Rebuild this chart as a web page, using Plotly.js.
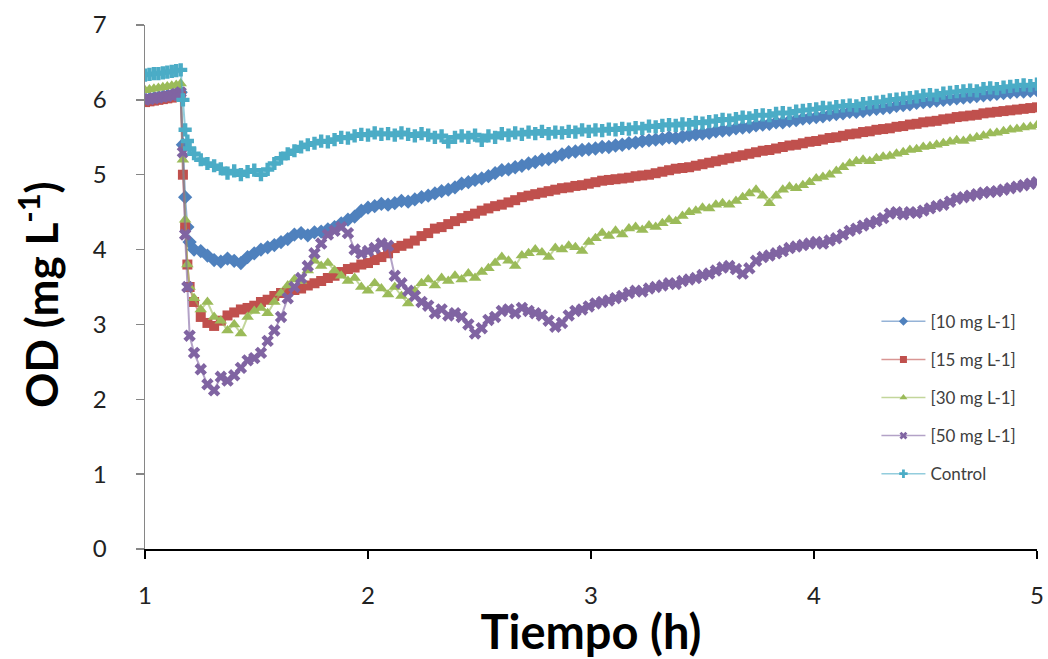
<!DOCTYPE html>
<html>
<head>
<meta charset="utf-8">
<script src="https://cdn.plot.ly/plotly-3.0.1.min.js"></script>
<style>html,body{margin:0;padding:0;background:#fff}#chart{width:1048px;height:659px}</style>
</head>
<body>
<div id="chart"></div>
<script>
// Time (h)
const time = [
1.00,1.02,1.04,1.06,1.08,1.10,1.12,1.14,1.16,
1.17,1.18,1.19,1.20,
1.22,1.25,1.28,1.31,1.34,1.37,1.40,1.43,1.46,1.49,
1.52,1.55,1.58,1.61,1.64,1.67,1.70,1.73,1.76,1.79,
1.82,1.85,1.88,1.91,1.94,1.97,2.00,2.03,2.06,2.09,
2.12,2.15,2.18,2.21,2.24,2.27,2.30,2.33,2.36,2.39,
2.42,2.45,2.48,2.51,2.54,2.57,2.60,2.63,2.66,2.69,
2.72,2.75,2.78,2.81,2.84,2.87,2.90,2.93,2.96,2.99,
3.02,3.05,3.08,3.11,3.14,3.17,3.20,3.23,3.26,3.29,
3.32,3.35,3.38,3.41,3.44,3.47,3.50,3.53,3.56,3.59,
3.62,3.65,3.68,3.71,3.74,3.77,3.80,3.83,3.86,3.89,
3.92,3.95,3.98,4.01,4.04,4.07,4.10,4.13,4.16,4.19,
4.22,4.25,4.28,4.31,4.34,4.37,4.40,4.43,4.46,4.49,
4.52,4.55,4.58,4.61,4.64,4.67,4.70,4.73,4.76,4.79,
4.82,4.85,4.88,4.91,4.94,4.97,5.00];

// OD series (mg L-1)
const od10 = [
6.00,6.01,6.02,6.03,6.04,6.05,6.06,6.08,6.10,
5.40,4.70,4.30,4.10,
4.00,3.98,3.92,3.86,3.84,3.88,3.85,3.82,3.90,3.95,
4.00,4.03,4.06,4.10,4.14,4.20,4.22,4.19,4.23,4.24,
4.27,4.30,4.35,4.40,4.44,4.52,4.56,4.58,4.61,4.60,
4.62,4.65,4.64,4.67,4.70,4.72,4.75,4.78,4.80,4.83,
4.88,4.90,4.93,4.95,4.98,5.02,5.06,5.07,5.10,5.12,
5.15,5.17,5.20,5.21,5.24,5.27,5.30,5.31,5.33,5.34,
5.35,5.37,5.37,5.39,5.40,5.42,5.43,5.45,5.46,5.47,
5.48,5.50,5.49,5.51,5.53,5.54,5.55,5.56,5.58,5.59,
5.60,5.62,5.63,5.64,5.66,5.67,5.68,5.70,5.70,5.72,
5.73,5.75,5.76,5.77,5.78,5.80,5.81,5.82,5.84,5.84,
5.85,5.87,5.88,5.89,5.90,5.92,5.93,5.94,5.96,5.97,
5.98,5.99,6.00,6.01,6.02,6.03,6.04,6.05,6.06,6.07,
6.08,6.09,6.10,6.11,6.11,6.12,6.13];

const od15 = [
5.97,5.98,5.99,6.00,6.01,6.02,6.03,6.04,6.05,
5.00,4.30,3.80,3.50,
3.30,3.10,3.02,2.98,3.05,3.12,3.16,3.20,3.22,3.25,
3.30,3.33,3.38,3.42,3.44,3.46,3.48,3.52,3.55,3.58,
3.62,3.65,3.70,3.74,3.76,3.80,3.82,3.86,3.90,3.95,
4.02,4.05,4.08,4.12,4.18,4.22,4.28,4.30,4.34,4.38,
4.42,4.45,4.48,4.52,4.55,4.58,4.60,4.63,4.66,4.70,
4.72,4.74,4.76,4.78,4.80,4.82,4.83,4.85,4.86,4.88,
4.90,4.92,4.93,4.94,4.95,4.96,4.98,4.99,5.00,5.02,
5.04,5.06,5.08,5.09,5.10,5.12,5.14,5.16,5.18,5.20,
5.22,5.24,5.26,5.28,5.30,5.32,5.33,5.35,5.37,5.39,
5.40,5.42,5.44,5.45,5.47,5.49,5.50,5.52,5.54,5.55,
5.57,5.58,5.60,5.61,5.62,5.64,5.65,5.67,5.68,5.70,
5.71,5.72,5.74,5.75,5.77,5.78,5.79,5.80,5.82,5.83,
5.84,5.85,5.86,5.87,5.88,5.89,5.90];

const od30 = [
6.13,6.14,6.15,6.16,6.17,6.18,6.19,6.20,6.22,
5.20,4.40,3.80,3.50,
3.35,3.20,3.30,3.10,3.05,2.92,3.00,2.88,3.10,3.18,
3.22,3.15,3.30,3.42,3.52,3.60,3.58,3.72,3.85,3.78,
3.82,3.72,3.65,3.58,3.62,3.50,3.45,3.55,3.48,3.40,
3.50,3.38,3.28,3.45,3.55,3.60,3.52,3.62,3.58,3.65,
3.60,3.68,3.62,3.70,3.75,3.82,3.90,3.85,3.78,3.92,
3.95,4.00,3.96,3.90,4.02,4.00,4.05,4.03,3.98,4.10,
4.15,4.22,4.18,4.25,4.20,4.28,4.30,4.26,4.32,4.30,
4.35,4.40,4.38,4.45,4.50,4.52,4.56,4.55,4.60,4.62,
4.60,4.65,4.70,4.75,4.80,4.72,4.62,4.72,4.80,4.84,
4.82,4.86,4.90,4.95,4.97,5.00,5.05,5.10,5.15,5.18,
5.20,5.18,5.22,5.24,5.25,5.28,5.30,5.33,5.34,5.37,
5.38,5.40,5.42,5.44,5.46,5.45,5.48,5.50,5.52,5.55,
5.56,5.58,5.60,5.61,5.63,5.64,5.66];

const od50 = [
6.00,6.01,6.02,6.03,6.04,6.05,6.06,6.08,6.10,
5.30,4.20,3.50,2.85,
2.62,2.40,2.20,2.12,2.30,2.25,2.32,2.42,2.52,2.55,
2.62,2.78,2.92,3.10,3.35,3.50,3.62,3.78,3.95,4.08,
4.20,4.25,4.30,4.22,4.00,3.95,3.98,4.02,4.08,4.05,
3.65,3.55,3.45,3.38,3.30,3.25,3.15,3.20,3.12,3.15,
3.10,3.00,2.88,2.95,3.06,3.10,3.18,3.20,3.15,3.22,
3.18,3.15,3.12,3.05,2.97,3.02,3.12,3.18,3.20,3.24,
3.28,3.30,3.32,3.35,3.38,3.42,3.45,3.44,3.48,3.50,
3.52,3.55,3.54,3.58,3.60,3.62,3.66,3.68,3.72,3.76,
3.78,3.74,3.68,3.75,3.85,3.90,3.92,3.95,3.98,4.02,
4.04,4.06,4.08,4.10,4.08,4.12,4.15,4.20,4.25,4.28,
4.32,4.35,4.38,4.42,4.48,4.50,4.47,4.50,4.49,4.52,
4.55,4.58,4.60,4.64,4.68,4.70,4.72,4.74,4.76,4.77,
4.78,4.80,4.82,4.84,4.86,4.88,4.90];

const control = [
6.33,6.34,6.35,6.35,6.36,6.37,6.38,6.39,6.40,
6.00,5.60,5.45,5.35,
5.28,5.20,5.15,5.12,5.08,5.02,5.05,5.00,5.04,5.06,
5.00,5.07,5.15,5.22,5.28,5.32,5.37,5.40,5.42,5.45,
5.44,5.47,5.50,5.49,5.52,5.54,5.53,5.56,5.54,5.55,
5.53,5.56,5.54,5.52,5.55,5.53,5.50,5.52,5.44,5.50,
5.52,5.50,5.53,5.46,5.52,5.50,5.55,5.53,5.56,5.54,
5.57,5.55,5.58,5.55,5.57,5.56,5.58,5.57,5.60,5.58,
5.60,5.59,5.61,5.60,5.62,5.61,5.63,5.62,5.65,5.64,
5.66,5.67,5.66,5.68,5.67,5.70,5.69,5.71,5.72,5.74,
5.73,5.75,5.77,5.76,5.79,5.80,5.79,5.82,5.83,5.82,
5.85,5.86,5.87,5.88,5.90,5.89,5.91,5.92,5.93,5.92,
5.95,5.96,5.97,5.98,6.00,6.01,6.02,6.03,6.04,6.06,
6.07,6.06,6.09,6.10,6.11,6.12,6.13,6.12,6.15,6.16,
6.15,6.17,6.18,6.19,6.20,6.19,6.21];

const seriesNames = ['[10 mg L-1]', '[15 mg L-1]', '[30 mg L-1]', '[50 mg L-1]', 'Control'];
const seriesData = [od10, od15, od30, od50, control];
const colors = ['#4F81BD', '#C0504D', '#9BBB59', '#8064A2', '#4BACC6'];
const lineColors = ['rgba(79,129,189,0.6)', 'rgba(192,80,77,0.6)', 'rgba(155,187,89,0.6)', 'rgba(128,100,162,0.6)', 'rgba(75,172,198,0.6)'];
const symbols = ['diamond', 'square', 'triangle-up', 'x', 'cross'];
const sizes = [11, 10, 11, 11, 11];

const traces = [];
seriesData.forEach((ys, i) => {
  traces.push({
    x: time, y: ys, name: seriesNames[i], type: 'scatter', mode: 'lines+markers',
    showlegend: false, legendgroup: 'g' + i,
    line: {color: lineColors[i], width: 2},
    marker: {color: colors[i], symbol: symbols[i], size: sizes[i], line: {width: 0}}
  });
});
// legend entries (small markers, thin lines, as in the reference)
seriesData.forEach((ys, i) => {
  traces.push({
    x: [null], y: [null], name: seriesNames[i], type: 'scatter', mode: 'lines+markers',
    showlegend: true, legendgroup: 'g' + i,
    line: {color: lineColors[i], width: 1.5},
    marker: {color: colors[i], symbol: symbols[i], size: 7, line: {width: 0}}
  });
});

const font = 'Lato, "Open Sans", "DejaVu Sans", sans-serif';
const layout = {
  width: 1048, height: 659,
  margin: {l: 145, r: 11, t: 25, b: 110},
  paper_bgcolor: '#fff', plot_bgcolor: '#fff',
  showlegend: true,
  legend: {x: 0.82, y: 0.468, xanchor: 'left', yanchor: 'top', traceorder: 'grouped', tracegroupgap: 13,
           itemwidth: 44,
           font: {family: font, size: 17, color: '#404040'}, bgcolor: 'rgba(0,0,0,0)'},
  xaxis: {range: [1, 5], dtick: 1, tick0: 1, showgrid: false, zeroline: false,
          showline: true, linecolor: '#000', linewidth: 2,
          ticks: 'outside', ticklen: 8, tickcolor: '#000', tickwidth: 1.5,
          ticklabelstandoff: 16,
          tickfont: {family: font, size: 24, color: '#222'},
          title: {text: 'Tiempo (h)', font: {family: font, size: 47, color: '#000', weight: 'bold'}, standoff: 6}},
  yaxis: {range: [0, 7], dtick: 1, showgrid: false, zeroline: false,
          showline: true, linecolor: '#868686', linewidth: 1.5,
          ticks: 'outside', ticklen: 8, tickcolor: '#868686', tickwidth: 1.5,
          ticklabelstandoff: 24,
          tickfont: {family: font, size: 24, color: '#222'}},
  annotations: [{
    text: 'OD (mg L<sup>-1</sup>)', textangle: -90, showarrow: false,
    xref: 'paper', yref: 'paper', x: (38 - 145) / 892, y: (549 - 295) / 524,
    xanchor: 'center', yanchor: 'middle',
    font: {family: font, size: 44, color: '#000', weight: 'bold'}
  }]
};

Plotly.newPlot('chart', traces, layout, {displayModeBar: false, staticPlot: true});
</script>
</body>
</html>
